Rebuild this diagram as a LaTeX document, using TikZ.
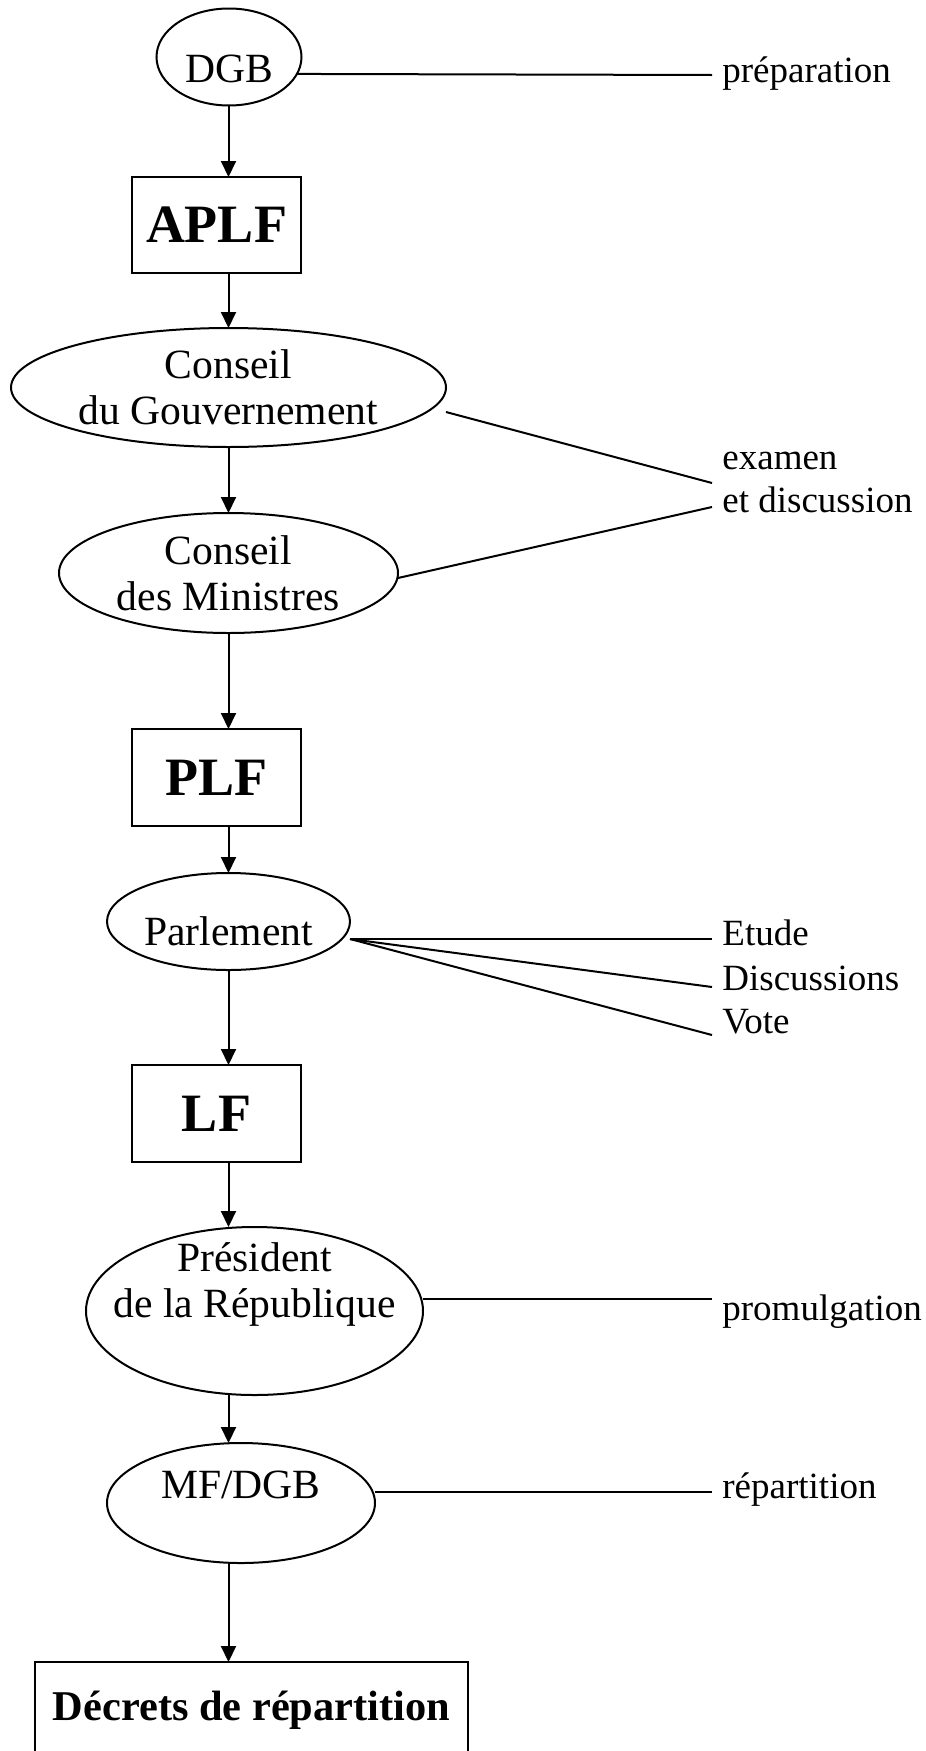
\documentclass[tikz,border=0pt]{standalone}
\usepackage{fontspec}
\setmainfont{Liberation Serif}
\usetikzlibrary{shapes.geometric, arrows.meta, positioning}

\newcommand{\ovalfnt}{\fontsize{20.8}{23}\selectfont}
\newcommand{\boxfnt}{\fontsize{27}{30}\selectfont\bfseries}
\newcommand{\notefnt}{\fontsize{18.5}{21.5}\selectfont}

\begin{document}
\begin{tikzpicture}[
    font=\ovalfnt,
    oval/.style={ellipse, draw=black, line width=1pt, outer sep=0pt, inner xsep=-6pt, inner ysep=0pt, align=center},
    doc/.style={rectangle, draw=black, line width=1pt, outer sep=0pt, font=\boxfnt, minimum width=84.5pt, minimum height=48.5pt},
    note/.style={anchor=base west, inner sep=0pt, font=\notefnt},
    arrow/.style={line width=1pt, ->, >={Triangle[length=8pt, width=7.5pt]}},
    link/.style={line width=1pt}
  ]
  \useasboundingbox (0pt,0pt) rectangle (463pt,-875.5pt);
  \coordinate (spine) at (114.25pt,0pt);

  % main chain
  \node (dgb) [oval, minimum width=72.5pt, minimum height=48.5pt, text height=25pt, text depth=0pt] at (114.5pt,-28.5pt) {DGB};
  \node (aplf) [doc, minimum height=48pt, below=35.75pt of dgb, xshift=-6.25pt] {APLF};
  \node (cgouv) [oval, minimum width=217.5pt, minimum height=59.5pt, below=27.5pt of aplf, xshift=6pt] {Conseil\\du Gouvernement};
  \node (cmin) [oval, minimum width=169.5pt, minimum height=60pt, below=33pt of cgouv] {Conseil\\des Ministres};
  \node (plf) [doc, below=48pt of cmin, xshift=-6pt] {PLF};
  \node (parl) [oval, minimum width=121.5pt, minimum height=48.5pt, text height=23.5pt, text depth=0pt, below=23.5pt of plf, xshift=6pt] {Parlement};
  \node (lf) [doc, below=47.5pt of parl, xshift=-6pt] {LF};
  \node (pres) [oval, minimum width=168.5pt, minimum height=84pt, inner xsep=-17pt, inner ysep=-5pt, text depth=30.5pt, below=32.5pt of lf, xshift=19pt] {Président\\de la République};
  \node (mf) [oval, minimum width=134pt, minimum height=60pt, text height=15pt, text depth=20pt, below=24pt of pres, xshift=-6.75pt] {MF/DGB};
  \node (decr) [doc, font=\fontsize{21.2}{24}\selectfont\bfseries, minimum width=216.5pt, minimum height=55pt, text height=15pt, text depth=12pt, below=49.5pt of mf, xshift=5.25pt] {Décrets de répartition};

  % side notes
  \coordinate (prepEnd) at (356pt,-37.5pt);
  \node (prep) [note] at (361pt,-41pt) {préparation};
  \coordinate (examEnd) at (356pt,-241.5pt);
  \coordinate (discEnd) at (356pt,-253.5pt);
  \node (exam) [note] at (361pt,-234.5pt) {examen};
  \node (disc) [note] at (361pt,-256pt) {et discussion};
  \coordinate (etudeEnd) at (356pt,-469.5pt);
  \coordinate (debatEnd) at (356pt,-493.5pt);
  \coordinate (voteEnd) at (356pt,-517.5pt);
  \node (etude) [note] at (361pt,-472.5pt) {Etude};
  \node (debat) [note] at (361pt,-495pt) {Discussions};
  \node (vote) [note] at (361pt,-516.5pt) {Vote};
  \coordinate (promEnd) at (356pt,-649.5pt);
  \node (prom) [note] at (361pt,-660pt) {promulgation};
  \coordinate (repEnd) at (356pt,-746pt);
  \node (rep) [note] at (361pt,-749pt) {répartition};

  \draw [arrow] (dgb.south -| spine) -- (aplf.north -| spine);
  \draw [arrow] (aplf.south -| spine) -- (cgouv.north -| spine);
  \draw [arrow] (cgouv.south -| spine) -- (cmin.north -| spine);
  \draw [arrow] (cmin.south -| spine) -- (plf.north -| spine);
  \draw [arrow] (plf.south -| spine) -- (parl.north -| spine);
  \draw [arrow] (parl.south -| spine) -- (lf.north -| spine);
  \draw [arrow] (lf.south -| spine) -- (pres.north -| spine);
  \draw [arrow] (pres.south -| spine) -- (mf.north -| spine);
  \draw [arrow] (mf.south -| spine) -- (decr.north -| spine);

  \draw [link] (dgb.-14) -- (prepEnd);
  \draw [link] ([yshift=-12.25pt]cgouv.east) -- (examEnd);
  \draw [link] ([yshift=-2.5pt]cmin.east) -- (discEnd);
  \draw [link] ([yshift=-8.75pt]parl.east) -- (etudeEnd);
  \draw [link] ([yshift=-8.75pt]parl.east) -- (debatEnd);
  \draw [link] ([yshift=-8.75pt]parl.east) -- (voteEnd);
  \draw [link] ([yshift=6pt]pres.east) -- (promEnd);
  \draw [link] ([yshift=5.5pt]mf.east) -- (repEnd);
\end{tikzpicture}
\end{document}
